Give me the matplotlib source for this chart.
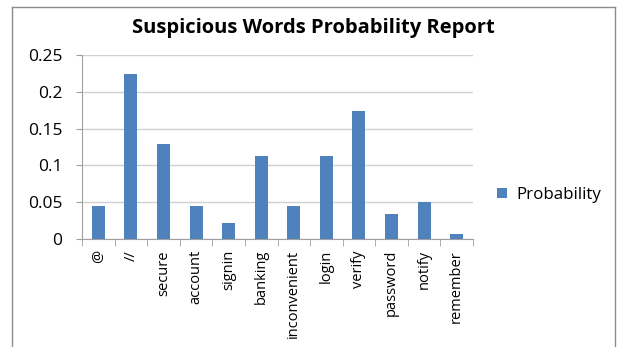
import matplotlib
matplotlib.use("Agg")
import matplotlib.pyplot as plt
from matplotlib.lines import Line2D

categories = ["@", "//", "secure", "account", "signin", "banking", "inconvenient",
              "login", "verify", "password", "notify", "remember"]
probability = [0.045, 0.224, 0.129, 0.045, 0.022, 0.113, 0.045,
               0.113, 0.174, 0.034, 0.050, 0.0065]
yticks = [0, 0.05, 0.1, 0.15, 0.2, 0.25]
yticklabels = ["0", "0.05", "0.1", "0.15", "0.2", "0.25"]

plt.rcParams['font.family'] = ['Open Sans', 'DejaVu Sans']

fig = plt.figure(figsize=(6.2, 3.47), dpi=100)
W, H = 620, 347
ax = fig.add_axes([82 / W, 1 - 239 / H, (473 - 82) / W, (239 - 55) / H])

bar_color = "#4F81BD"
x = list(range(len(categories)))
ax.bar(x, probability, width=0.4, color=bar_color, label="Probability", zorder=3)

ax.set_xlim(-0.5, len(categories) - 0.5)
ax.set_ylim(0, 0.25)
ax.set_yticks(yticks)
ax.set_yticklabels(yticklabels, fontsize=12.5)
ax.yaxis.grid(True, color="#D0D0D0", linewidth=1, zorder=0)
ax.set_xticks(x)
ax.set_xticklabels(categories, rotation=90, fontsize=10.5)
ax.tick_params(axis='x', length=0, pad=8)
ax.tick_params(axis='y', length=4, color="#A0A0A0", pad=10)
# minor ticks between categories
ax.set_xticks([i - 0.5 for i in range(len(categories) + 1)], minor=True)
ax.tick_params(axis='x', which='minor', length=5, color="#A0A0A0", direction='out')

for s in ["top", "right"]:
    ax.spines[s].set_visible(False)
ax.spines["left"].set_color("#A0A0A0")
ax.spines["bottom"].set_color("#A0A0A0")

fig.text(313 / W, 1 - 28 / H, "Suspicious Words Probability Report",
         ha="center", va="center", fontsize=14.5, fontweight="bold")

ax.legend(loc="center left", bbox_to_anchor=(482 / W, 1 - 195 / H),
          bbox_transform=fig.transFigure, frameon=False, fontsize=12.2,
          handlelength=0.6, handleheight=0.6, handletextpad=0.5)

# chart frame
col = "#8C8C8C"
fig.add_artist(Line2D([12 / W, 12 / W], [0, 1 - 7 / H], transform=fig.transFigure, color=col, lw=1))
fig.add_artist(Line2D([12 / W, 615 / W], [1 - 7 / H, 1 - 7 / H], transform=fig.transFigure, color=col, lw=1))
fig.add_artist(Line2D([615 / W, 615 / W], [0, 1 - 7 / H], transform=fig.transFigure, color=col, lw=1))

fig.savefig("out.png", dpi=100)
